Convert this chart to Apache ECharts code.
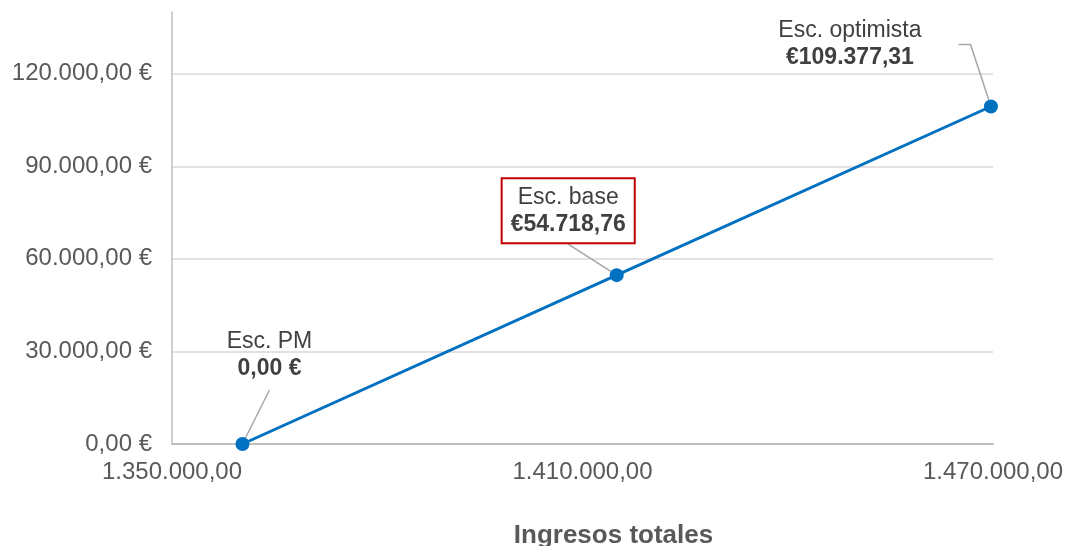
<!DOCTYPE html>
<html>
<head>
<meta charset="utf-8">
<script src="https://cdn.jsdelivr.net/npm/echarts@6/dist/echarts.min.js"></script>
<style>
  html, body { margin: 0; padding: 0; background: #ffffff; }
  #chart { width: 1069px; height: 546px; }
</style>
</head>
<body>
<div id="chart"></div>
<script>
// ---- data ----
const scenarioNames = ['Esc. PM', 'Esc. base', 'Esc. optimista'];
const ingresos = [1360300, 1415000, 1469700];           // x values (estimated)
const beneficio = [0, 54718.76, 109377.31];             // y values
const currencyPrefix = [false, true, true];             // label style of each value
const xTicks = { min: 1350000, max: 1470000, interval: 60000 };
const yTicks = { min: 0, max: 140000, interval: 30000 };
const xAxisTitle = 'Ingresos totales';

function fmtNum(v) {
  const fixed = Math.abs(v).toFixed(2);
  const parts = fixed.split('.');
  const intPart = parts[0].replace(/\B(?=(\d{3})+(?!\d))/g, '.');
  return (v < 0 ? '-' : '') + intPart + ',' + parts[1];
}

const FONT = 'Liberation Sans, Arial, sans-serif';
const labelRich = {
  a: { fontSize: 23, color: '#404040', lineHeight: 27, fontFamily: FONT },
  b: { fontSize: 23, color: '#404040', lineHeight: 27, fontWeight: 'bold', fontFamily: FONT }
};
const clearBox = { backgroundColor: 'rgba(255,255,255,0)' };
const labelStyles = [
  Object.assign({ padding: [0, 0, 8, 0] }, clearBox),
  { padding: [5, 8, 4, 8], borderColor: '#c00000', borderWidth: 2, backgroundColor: '#ffffff' },
  Object.assign({ padding: [0, 37, 0, 0] }, clearBox)
];
const labelLines = [ { length2: 0 }, { length2: 0 }, { length2: 12 } ];
const labelMoves = [ { dx: 27, dy: -42 }, { dx: -48.5, dy: -21 }, { dx: -122.5, dy: -23 } ];

const seriesData = ingresos.map((x, i) => ({
  value: [x, beneficio[i]],
  label: Object.assign({
    formatter: '{a|' + scenarioNames[i] + '}\n{b|' +
      (currencyPrefix[i] ? '€' + fmtNum(beneficio[i]) : fmtNum(beneficio[i]) + ' €') + '}'
  }, labelStyles[i]),
  labelLine: Object.assign({ show: true, lineStyle: { color: '#a6a6a6', width: 1.5 } }, labelLines[i])
}));

const chart = echarts.init(document.getElementById('chart'), null, { renderer: 'canvas' });
chart.setOption({
  animation: false,
  backgroundColor: '#ffffff',
  grid: { left: 172, right: 76, top: 12, bottom: 102, containLabel: false, outerBoundsMode: 'none' },
  xAxis: {
    type: 'value',
    min: xTicks.min, max: xTicks.max, interval: xTicks.interval,
    name: xAxisTitle,
    nameLocation: 'middle',
    nameGap: 79,
    nameTextStyle: { fontSize: 26, fontWeight: 'bold', color: '#595959', fontFamily: FONT, padding: [0, 0, 0, 62] },
    axisLine: { show: true, lineStyle: { color: '#bfbfbf', width: 2 } },
    axisTick: { show: false },
    splitLine: { show: false },
    axisLabel: {
      margin: 16, fontSize: 24, color: '#595959', fontFamily: FONT,
      formatter: v => fmtNum(v)
    }
  },
  yAxis: {
    type: 'value',
    min: yTicks.min, max: yTicks.max, interval: yTicks.interval,
    axisLine: { show: true, lineStyle: { color: '#bfbfbf', width: 1.5 } },
    axisTick: { show: false },
    splitLine: { show: true, showMaxLine: false, lineStyle: { color: '#d9d9d9', width: 1.5 } },
    axisLabel: {
      margin: 20, fontSize: 24, color: '#595959', fontFamily: FONT,
      showMaxLabel: false,
      formatter: v => (v > yTicks.max - 1 ? '' : fmtNum(v) + ' €')
    }
  },
  series: [{
    type: 'line',
    data: seriesData,
    symbol: 'circle',
    symbolSize: 14,
    lineStyle: { color: '#0070c0', width: 3 },
    itemStyle: { color: '#0070c0' },
    label: { show: true, position: 'top', distance: 5, rich: labelRich },
    labelLayout: function (params) {
      return labelMoves[params.dataIndex];
    }
  }]
});
</script>
</body>
</html>
